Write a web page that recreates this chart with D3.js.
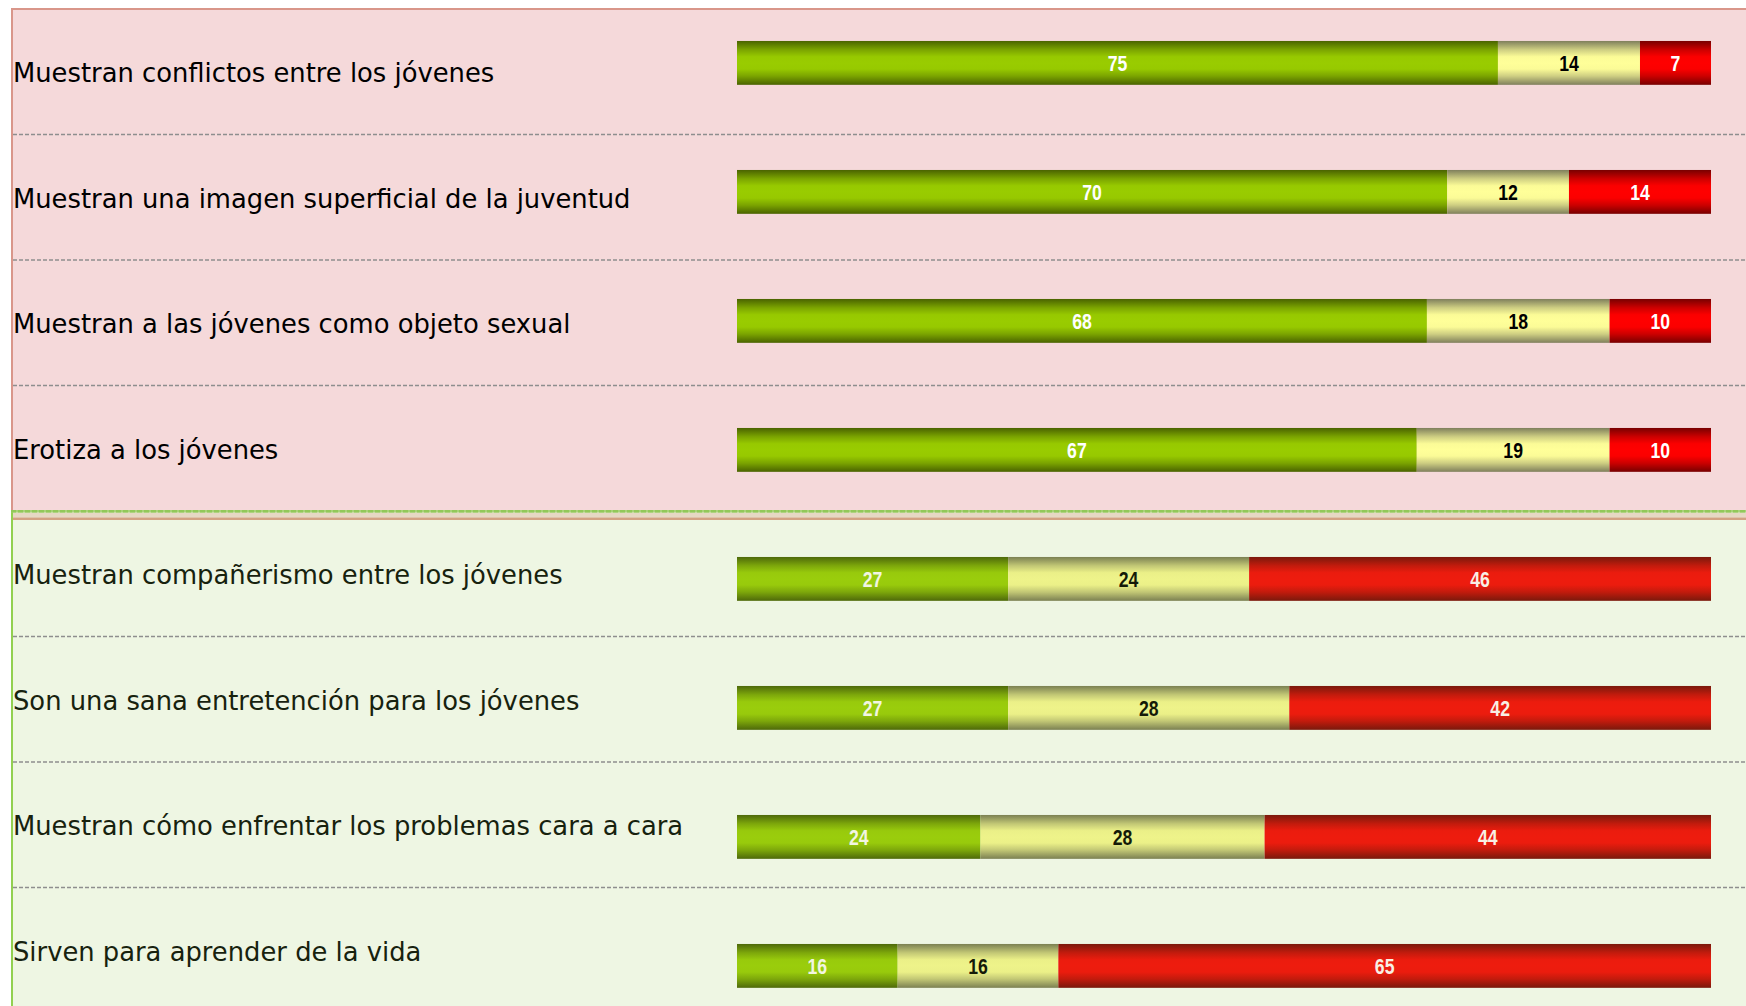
<!DOCTYPE html>
<html>
<head>
<meta charset="utf-8">
<script src="https://cdn.jsdelivr.net/npm/d3@7"></script>
<style>
  html, body { margin: 0; padding: 0; background: #fff; }
  svg { display: block; }
</style>
</head>
<body>
<div id="chart"></div>
<script>
const CATEGORIES = [
  'Muestran conflictos entre los jóvenes',
  'Muestran una imagen superficial de la juventud',
  'Muestran a las jóvenes como objeto sexual',
  'Erotiza a los jóvenes',
  'Muestran compañerismo entre los jóvenes',
  'Son una sana entretención para los jóvenes',
  'Muestran cómo enfrentar los problemas cara a cara',
  'Sirven para aprender de la vida'
];
const GROUPS = ['neg', 'neg', 'neg', 'neg', 'pos', 'pos', 'pos', 'pos'];
const ACUERDO = [75, 70, 68, 67, 27, 27, 24, 16];
const NEUTRAL = [14, 12, 18, 19, 24, 28, 28, 16];
const DESACUERDO = [7, 14, 10, 10, 46, 42, 44, 65];
const SERIES = ['acuerdo', 'neutral', 'desacuerdo'];

const W = 1746, H = 1006;
const rows = CATEGORIES.map((c, i) => ({
  cat: c, group: GROUPS[i],
  acuerdo: ACUERDO[i], neutral: NEUTRAL[i], desacuerdo: DESACUERDO[i]
}));

const svg = d3.select('#chart').append('svg').attr('width', W).attr('height', H);
const defs = svg.append('defs');

// gradient fills: [edge, mid]
const palette = {
  neg: { acuerdo: ['#4a6300', '#99cc00'], neutral: ['#7f7f5c', '#ffff99'], desacuerdo: ['#780000', '#ff0000'] },
  pos: { acuerdo: ['#4e690a', '#9acd0c'], neutral: ['#7b8052', '#eef38a'], desacuerdo: ['#7a190c', '#ee1c0e'] }
};
const textColor = {
  neg: { acuerdo: '#ffffff', neutral: '#000000', desacuerdo: '#ffffff' },
  pos: { acuerdo: '#f2f5e2', neutral: '#141a08', desacuerdo: '#f8efe4' }
};
for (const g of ['neg', 'pos']) {
  for (const s of SERIES) {
    const [edge, mid] = palette[g][s];
    const lg = defs.append('linearGradient').attr('id', `grad-${g}-${s}`)
      .attr('x1', 0).attr('y1', 0).attr('x2', 0).attr('y2', 1);
    const mix = d3.interpolateRgb(edge, mid);
    [[0, 0], [0.2, 0.62], [0.36, 0.97], [0.5, 1], [0.64, 0.97], [0.8, 0.62], [1, 0]].forEach(([o, t]) => {
      lg.append('stop').attr('offset', o).attr('stop-color', mix(t));
    });
  }
}

// table rows (labels + separators)
const rowY = d3.scaleBand().domain(CATEGORIES).range([9, 9 + 8 * 125.5]);
const dividerY = rowY(CATEGORIES[4]);

// panels
svg.append('rect').attr('x', 11).attr('y', 8).attr('width', W - 11).attr('height', dividerY - 8)
  .attr('fill', '#f5d9da');
svg.append('rect').attr('x', 11).attr('y', dividerY).attr('width', W - 11).attr('height', H - dividerY)
  .attr('fill', '#eef6e3');
svg.append('rect').attr('x', 11).attr('y', dividerY + 1.5).attr('width', W - 11).attr('height', 5)
  .attr('fill', '#e6d8c4');
svg.append('line').attr('x1', 11).attr('x2', W).attr('y1', dividerY + 7.8).attr('y2', dividerY + 7.8)
  .attr('stroke', '#d3a283').attr('stroke-width', 2.4);
svg.append('line').attr('x1', 11).attr('x2', W).attr('y1', 9).attr('y2', 9)
  .attr('stroke', '#d9968a').attr('stroke-width', 2);
svg.append('line').attr('x1', 12).attr('x2', 12).attr('y1', 8).attr('y2', dividerY)
  .attr('stroke', '#d9968a').attr('stroke-width', 2);
svg.append('line').attr('x1', 12).attr('x2', 12).attr('y1', dividerY - 1).attr('y2', H)
  .attr('stroke', '#92d050').attr('stroke-width', 2);
svg.append('line').attr('x1', 11).attr('x2', W).attr('y1', dividerY + 0.3).attr('y2', dividerY + 0.3)
  .attr('stroke', '#a9d27a').attr('stroke-width', 2.6);
svg.append('line').attr('x1', 11).attr('x2', W).attr('y1', dividerY + 0.3).attr('y2', dividerY + 0.3)
  .attr('stroke', '#92c85a').attr('stroke-width', 2.6).attr('stroke-dasharray', '5,2');

// dashed separators
const seps = CATEGORIES.filter((c, i) => i !== 3 && i !== 7);
svg.selectAll('line.sep').data(seps).enter().append('line')
  .attr('class', 'sep')
  .attr('x1', 13).attr('x2', W)
  .attr('y1', d => rowY(d) + rowY.bandwidth())
  .attr('y2', d => rowY(d) + rowY.bandwidth())
  .attr('stroke', '#8e8e8e').attr('stroke-width', 1.6).attr('stroke-dasharray', '4,2');

// category labels
svg.selectAll('text.cat').data(rows).enter().append('text')
  .attr('class', 'cat')
  .attr('x', 13)
  .attr('y', d => rowY(d.cat) + rowY.bandwidth() / 2 + 10.5)
  .attr('font-family', '"DejaVu Sans", Verdana, sans-serif')
  .attr('font-size', 25.8)
  .attr('fill', d => d.group === 'neg' ? '#000000' : '#17220e')
  .text(d => d.cat);

// bars (100% stacked)
const barY = d3.scaleBand().domain(CATEGORIES).range([-1.6, -1.6 + 8 * 129])
  .paddingInner(0.66).paddingOuter(0.33);
const x = d3.scaleLinear().domain([0, 1]).range([737, 1711]);
const stack = d3.stack().keys(SERIES).offset(d3.stackOffsetExpand);
const layers = stack(rows);

const gBars = svg.append('g');
layers.forEach(layer => {
  const key = layer.key;
  gBars.selectAll(`rect.${key}`).data(layer).enter().append('rect')
    .attr('class', key)
    .attr('x', d => x(d[0]))
    .attr('y', d => barY(d.data.cat))
    .attr('width', d => x(d[1]) - x(d[0]))
    .attr('height', barY.bandwidth())
    .attr('fill', d => `url(#grad-${d.data.group}-${key})`);

  gBars.selectAll(`text.${key}`).data(layer).enter().append('text')
    .attr('class', key)
    .attr('transform', d => `translate(${(x(d[0]) + x(d[1])) / 2},${barY(d.data.cat) + barY.bandwidth() / 2 + 7.8}) scale(0.82,1)`)
    .attr('text-anchor', 'middle')
    .attr('font-family', '"Liberation Sans", Arial, sans-serif')
    .attr('font-weight', 'bold')
    .attr('font-size', 21.5)
    .attr('fill', d => textColor[d.data.group][key])
    .text(d => d.data[key]);
});
</script>
</body>
</html>
